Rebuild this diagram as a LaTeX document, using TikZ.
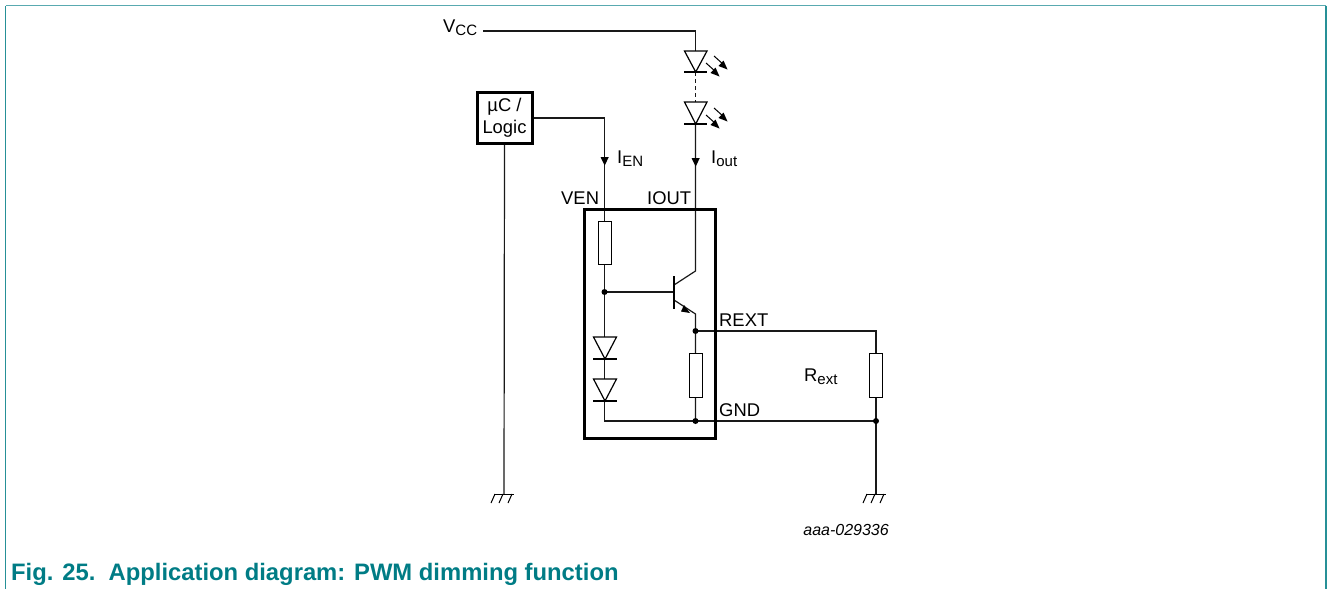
\documentclass[tikz,border=0pt]{standalone}
\usepackage{fontspec}
\setmainfont{Liberation Sans}
\definecolor{nxp}{HTML}{007C85}
\newcommand{\lbl}{\fontsize{18.4}{21}\selectfont}
\newcommand{\subl}[1]{\raisebox{-3.5pt}{\fontsize{15}{16}\selectfont #1}}
\begin{document}
\begin{tikzpicture}[x=1pt,y=-1pt,
  wire/.style={line width=1.2pt,black!90},
  thick box/.style={line width=3pt,black,line join=miter},
  res/.style={line width=0.9pt,draw=black,fill=white},
  bar/.style={line width=2.4pt,black},
  dot/.style={circle,fill=black,inner sep=0pt,minimum size=6pt},
  lab/.style={inner sep=0pt,font=\lbl,text=black},
  tip/.style={fill=black,draw=none},
  diode/.style={line width=1.2pt,draw=black,fill=white,line join=miter},
  gnd/.style={line width=1pt,black}]
\useasboundingbox (0,0) rectangle (1328,589);
% frame
\draw[line width=1.1pt,nxp!65!white] (5.5,5.5) -- (1326,5.5);
\draw[line width=1.2pt,nxp!85!white] (5.5,589) -- (5.5,5.5);
\draw[line width=1.2pt,nxp!85!white] (1326,5.5) -- (1326,589);
% coordinates
\coordinate (vccstart) at (483,31);
\coordinate (vcccorner) at (695.5,31);
\coordinate (led1top) at (695.5,51);
\coordinate (led1bar) at (695.5,72);
\coordinate (led2top) at (695.5,102);
\coordinate (led2bar) at (695.5,124);
\coordinate (coll) at (695.5,271);
\coordinate (collb) at (674,285);
\coordinate (emb) at (674,300);
\coordinate (eme) at (695.5,314);
\coordinate (rext) at (695.5,331);
\coordinate (gndnode) at (695.5,421);
\coordinate (venbase) at (604.5,292);
\coordinate (basept) at (674,292);
\coordinate (venctop) at (604.5,118);
\coordinate (rextcorner) at (876,331);
\coordinate (gndr) at (876,421);
\coordinate (gr) at (876,494);
\coordinate (gl) at (504,494);
\coordinate (venbot) at (604.5,421);
% wires
\draw[wire] (vccstart) -- (vcccorner) -- (led1top);
\draw[wire,line width=1.5pt,dash pattern=on 4pt off 3pt] (led1bar) -- (led2top);
\draw[wire] (led2bar) -- (coll) -- (collb);
\draw[wire] (emb) -- (eme) -- (rext) -- (gndnode);
\draw[wire] (venctop) -- (venbot) -- (gndr);
\draw[wire] (basept) -- (venbase);
\draw[wire] (rext) -- (rextcorner) -- (gndr) -- (gr);
% box
\draw[thick box] (584,209) rectangle (715,438);
% uC
\node[draw=black,line width=3pt,fill=white,minimum width=55pt,minimum height=51pt,inner sep=0pt,align=center,font=\lbl,anchor=center] (uc) at (504.5,118) {µC /\\[1pt]Logic};
\draw[wire] (uc.east |- venctop) -- (venctop);
\draw[wire] (uc.south) -- (gl);
% arrows
\fill[tip] (600.5,157) -- (608.8,157) -- (604.7,165.5) -- cycle;
\fill[tip] (691.5,158) -- (699.8,158) -- (695.7,166.5) -- cycle;
\fill[tip] (684,305) -- (690,313) -- (681,311.5) -- cycle;
% transistor base
\draw[line width=2.6pt] (674,276) -- (674,309);
% resistors
\draw[res] (598,221) rectangle (611,264);
\draw[res] (689,353) rectangle (702,397);
\draw[res] (869.5,353) rectangle (882.5,397);
% diodes
\draw[diode] (593.5,337) -- (616.5,337) -- (605,359) -- cycle;
\draw[bar] (593,359) -- (617,359);
\draw[diode] (593.5,379) -- (616.5,379) -- (605,401) -- cycle;
\draw[bar] (593,401) -- (617,401);
\draw[diode] (684.5,51) -- (707,51) -- (695.7,72) -- cycle;
\draw[bar] (684,72) -- (707,72);
\draw[diode] (684.5,102) -- (707,102) -- (695.7,124) -- cycle;
\draw[bar] (684,124) -- (707,124);
% LED rays
\foreach \y in {0,52}{
 \draw[line width=1pt] (706,{63+\y}) -- (716,{72+\y});
 \fill ({719.5},{76.5+\y}) -- (710.5,{73+\y}) -- (715.5,{67.5+\y}) -- cycle;
 \draw[line width=1pt] (714,{56+\y}) -- (724,{65+\y});
 \fill ({727.5},{69.5+\y}) -- (718.5,{66+\y}) -- (723.5,{60.5+\y}) -- cycle;
}
% dots
\node[dot] (d1) at (venbase) {};
\node[dot] (d2) at (rext) {};
\node[dot] (d3) at (gndnode) {};
\node[dot] (d4) at (gndr) {};
% grounds
\foreach \c in {gl,gr}{
 \draw[gnd] ([xshift=-10pt]\c) -- ([xshift=10pt]\c);
 \foreach \dx/\ex in {-9/-13,-1/-5,8/4} \draw[gnd] ([xshift=\dx pt]\c) -- ([xshift=\ex pt,yshift=-9pt]\c);
}
% labels
\node[lab,anchor=base west] (vcc) at (443,32) {V\subl{CC}};
\node[lab,anchor=base west] (ien) at (617,163) {I\subl{EN}};
\node[lab,anchor=base west] (iout) at (711,163) {I\subl{out}};
\node[lab,anchor=base west] (ven) at (561,204) {VEN};
\node[lab,anchor=base west] (ioutp) at (647,204) {IOUT};
\node[lab,anchor=base west] (rextl) at (719,326) {REXT};
\node[lab,anchor=base west] (gndl) at (719,416) {GND};
\node[lab,anchor=base west] (rl) at (804,381) {R\subl{ext}};
\node[inner sep=0pt,anchor=base east,font=\fontsize{16}{18}\selectfont\itshape] (ref) at (889,535) {aaa-029336};
\node[inner sep=0pt,anchor=base west,font=\fontsize{23.8}{26}\selectfont\bfseries,text=nxp] (cap) at (11,580) {Fig. 25.\ \ Application diagram: PWM dimming function};
\end{tikzpicture}
\end{document}
